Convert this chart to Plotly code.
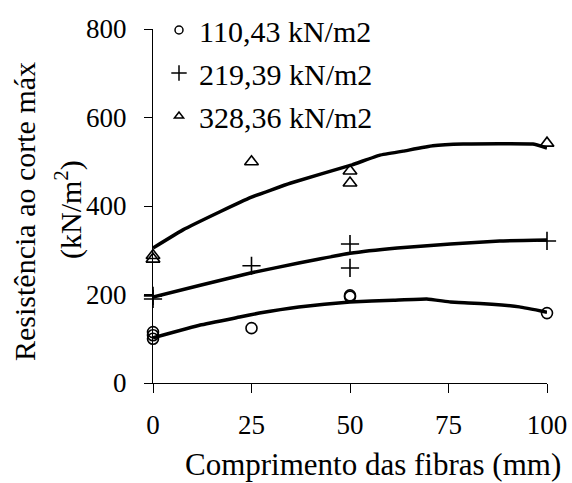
import plotly.graph_objects as go

# Measured points (fibre length mm, shear strength kN/m2)
x_110 = [0, 0, 0, 25, 50, 50, 100]
y_110 = [100, 108, 115, 124, 195, 198, 158]
x_219 = [0, 0, 25, 50, 50, 100]
y_219 = [190, 197, 265, 314, 260, 321]
x_328 = [0, 0, 25, 50, 50, 100]
y_328 = [280, 288, 500, 479, 452, 542]

# Trend curves
cx_110 = [0, 12, 22, 27, 37, 50, 61, 69.5, 75.5, 80, 86, 93, 100]
cy_110 = [102, 131, 149, 158, 172, 183, 187, 190, 183, 181, 178, 172, 160]
cx_219 = [0, 12, 25, 37, 50, 62, 75.5, 88, 100]
cy_219 = [194, 221, 249, 271, 293, 305, 314, 321, 323]
cx_328 = [0, 7.6, 17, 25, 35, 50.5, 57.6, 63.5, 71, 78.7, 96.4, 100]
cy_328 = [305, 346, 387, 420, 452, 493, 515, 524, 536, 540, 540, 531]

legend_names = ["110,43 kN/m2", "219,39 kN/m2", "328,36 kN/m2"]
x_ticks = [0, 25, 50, 75, 100]
y_ticks = [0, 200, 400, 600, 800]

FONT = "Liberation Serif, Times New Roman, serif"
BLACK = "#000000"

symbols = ["circle-open", "cross-thin-open", "triangle-up-open"]
sizes = [11, 13, 12]
leg_sizes = [8, 11, 8]
pts = [(x_110, y_110), (x_219, y_219), (x_328, y_328)]
curves = [(cx_110, cy_110), (cx_219, cy_219), (cx_328, cy_328)]

fig = go.Figure()
for (cx, cy) in curves:
    fig.add_trace(go.Scatter(x=cx, y=cy, mode="lines", showlegend=False,
                             line=dict(color=BLACK, width=3.5, shape="spline", smoothing=0.3),
                             hoverinfo="skip", cliponaxis=False))
for i, (px, py) in enumerate(pts):
    fig.add_trace(go.Scatter(x=px, y=py, mode="markers", showlegend=False,
                             marker=dict(symbol=symbols[i], size=sizes[i], color=BLACK,
                                         line=dict(color=BLACK, width=1.6)),
                             cliponaxis=False))
for i, name in enumerate(legend_names):
    fig.add_trace(go.Scatter(x=[None], y=[None], mode="markers", name=name,
                             legendgroup=f"g{i}",
                             marker=dict(symbol=symbols[i], size=leg_sizes[i], color=BLACK,
                                         line=dict(color=BLACK, width=1.5))))

W, H = 572, 483
L, R, T, B = 153, 25, 29, 100
PW, PH = W - L - R, H - T - B

fig.update_layout(
    width=W, height=H,
    margin=dict(l=L, r=R, t=T, b=B, autoexpand=False),
    paper_bgcolor="white", plot_bgcolor="white",
    font=dict(family=FONT, size=27, color=BLACK),
    showlegend=True,
    legend=dict(xref="container", yref="container",
                x=159 / W, y=1 - 4 / H, xanchor="left", yanchor="top",
                font=dict(family=FONT, size=30, color=BLACK),
                bgcolor="rgba(0,0,0,0)", borderwidth=0,
                tracegroupgap=1, traceorder="grouped"),
    xaxis=dict(range=[0, 100], tickvals=x_ticks, ticktext=[str(v) for v in x_ticks],
               showgrid=False, zeroline=False, showline=True, linecolor=BLACK, linewidth=1,
               ticks="outside", ticklen=9, tickcolor=BLACK, tickwidth=1,
               ticklabelstandoff=9, tickfont=dict(family=FONT, size=27, color=BLACK)),
    yaxis=dict(range=[0, 800], tickvals=y_ticks, ticktext=[str(v) for v in y_ticks],
               showgrid=False, zeroline=False, showline=True, linecolor=BLACK, linewidth=1,
               ticks="outside", ticklen=8, tickcolor=BLACK, tickwidth=1,
               ticklabelstandoff=12, tickfont=dict(family=FONT, size=27, color=BLACK)),
    annotations=[
        dict(text="Comprimento das fibras (mm)", xref="paper", yref="paper",
             x=(373 - L) / PW, y=-(464 - (T + PH)) / PH, xanchor="center", yanchor="middle",
             showarrow=False, font=dict(family=FONT, size=31, color=BLACK)),
        dict(text="Resistência ao corte máx", xref="paper", yref="paper",
             x=(25 - L) / PW, y=((T + PH) - 212) / PH, xanchor="center", yanchor="middle",
             textangle=-90, showarrow=False, font=dict(family=FONT, size=30, color=BLACK)),
        dict(text="(kN/m<sup>2</sup>)", xref="paper", yref="paper",
             x=(68 - L) / PW, y=((T + PH) - 210) / PH, xanchor="center", yanchor="middle",
             textangle=-90, showarrow=False, font=dict(family=FONT, size=30, color=BLACK)),
    ],
)

fig.write_html("out.html", config={"displayModeBar": False},
               post_script="document.body.style.margin='0';document.body.style.padding='0';")
